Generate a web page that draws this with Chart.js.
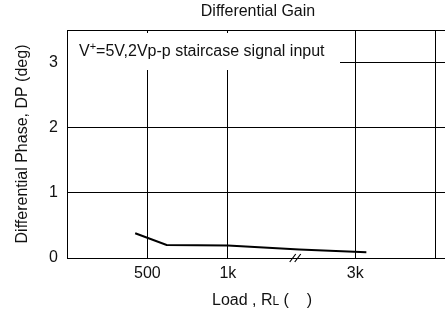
<!DOCTYPE html>
<html>
<head>
<meta charset="utf-8">
<script src="https://cdn.jsdelivr.net/npm/chart.js@4"></script>
<style>
html,body{margin:0;padding:0;background:#fff;}
#wrap{width:445px;height:313px;position:relative;}
</style>
</head>
<body>
<div id="wrap"><canvas id="dpChart" width="445" height="313"></canvas></div>
<script>
//负载电阻 (ohm)
var loadOhms=[450,590,1000,1850,3300];
//微分相位 (deg)
var phaseDeg=[0.38,0.20,0.19,0.13,0.09];
//刻度
var xTickValues=[500,1000,3000,6000];
var xTickLabels=["500","1k","3k",""];
var yTickValues=[0,1,2,3];

var fontFamily="'Liberation Sans', Arial, sans-serif";

//标题, 边框, 说明文字, 断轴符号
var decoPlugin={
	id:"deco",
	afterDraw:function(chart){
		var ctx=chart.ctx;
		var area=chart.chartArea;
		var xs=chart.scales.x;
		var cx=(area.left+area.right)/2;
		ctx.save();
		//标题
		ctx.fillStyle="#111";
		ctx.font="16px "+fontFamily;
		ctx.textAlign="center";
		ctx.textBaseline="middle";
		ctx.fillText("Differential Gain",cx+2,12);
		//上边框
		ctx.strokeStyle="#000";
		ctx.lineWidth=1;
		ctx.beginPath();
		ctx.moveTo(area.left,area.top+0.5);
		ctx.lineTo(area.right,area.top+0.5);
		ctx.stroke();
		//说明文字底色
		ctx.fillStyle="#fff";
		ctx.fillRect(area.left+1,area.top+3,272,37);
		//说明文字
		ctx.fillStyle="#111";
		ctx.textBaseline="alphabetic";
		ctx.textAlign="left";
		var tx=area.left+12;
		var ty=area.top+26;
		ctx.font="16px "+fontFamily;
		ctx.fillText("V",tx,ty);
		tx+=ctx.measureText("V").width;
		ctx.font="11px "+fontFamily;
		ctx.fillText("+",tx,ty-6);
		tx+=ctx.measureText("+").width;
		ctx.font="16px "+fontFamily;
		ctx.fillText("=5V,2Vp-p staircase signal input",tx,ty);
		//断轴符号
		var bx=xs.getPixelForValue(1780);
		var by=area.bottom;
		ctx.strokeStyle="#000";
		ctx.lineWidth=1.2;
		ctx.beginPath();
		ctx.moveTo(bx-5,by+4);
		ctx.lineTo(bx+1,by-4);
		ctx.moveTo(bx,by+4);
		ctx.lineTo(bx+6,by-4);
		ctx.stroke();
		//x轴标题
		var label1="Load , R";
		var label2="L";
		var label3=" (    )";
		ctx.font="16px "+fontFamily;
		var w1=ctx.measureText(label1).width;
		var w3=ctx.measureText(label3).width;
		ctx.font="12px "+fontFamily;
		var w2=ctx.measureText(label2).width;
		var sx=cx+6-(w1+w2+w3)/2;
		var sy=305;
		ctx.font="16px "+fontFamily;
		ctx.fillText(label1,sx,sy);
		ctx.font="12px "+fontFamily;
		ctx.fillText(label2,sx+w1,sy);
		ctx.font="16px "+fontFamily;
		ctx.fillText(label3,sx+w1+w2,sy);
		ctx.restore();
	}
};

var ctx=document.getElementById("dpChart").getContext("2d");
var data={
	datasets:[{
		data:loadOhms.map(function(v,i){return {x:v,y:phaseDeg[i]};}),
		borderColor:"#000",
		borderWidth:2,
		pointRadius:0,
		fill:false,
		tension:0
	}]
};

var myLineChart=new Chart(ctx,{
	type:"line",
	data:data,
	plugins:[decoPlugin],
	options:{
		responsive:false,
		animation:false,
		layout:{padding:{left:0,right:0,top:30,bottom:0}},
		plugins:{
			legend:{display:false},
			tooltip:{enabled:false},
			title:{display:false}
		},
		scales:{
			x:{
				type:"logarithmic",
				min:250,
				max:6500,
				afterBuildTicks:function(scale){
					scale.ticks=xTickValues.map(function(v){return {value:v};});
				},
				afterFit:function(scale){scale.height=55;},
				grid:{color:"#000",lineWidth:1,drawTicks:false},
				border:{color:"#000",width:1},
				ticks:{
					color:"#111",
					padding:6,
					maxRotation:0,
					autoSkip:false,
					font:{family:fontFamily,size:16},
					callback:function(value){
						var idx=xTickValues.indexOf(value);
						return idx>=0?xTickLabels[idx]:"";
					}
				}
			},
			y:{
				min:0,
				max:3.5,
				afterBuildTicks:function(scale){
					scale.ticks=yTickValues.map(function(v){return {value:v};});
				},
				afterFit:function(scale){scale.width=67;},
				grid:{color:"#000",lineWidth:1,drawTicks:false},
				border:{color:"#000",width:1},
				ticks:{
					color:"#111",
					padding:9,
					font:{family:fontFamily,size:16}
				},
				title:{
					display:true,
					text:"Differential Phase, DP (deg)",
					color:"#111",
					font:{family:fontFamily,size:16},
					padding:{top:13,bottom:0}
				}
			}
		}
	}
});
</script>
</body>
</html>
